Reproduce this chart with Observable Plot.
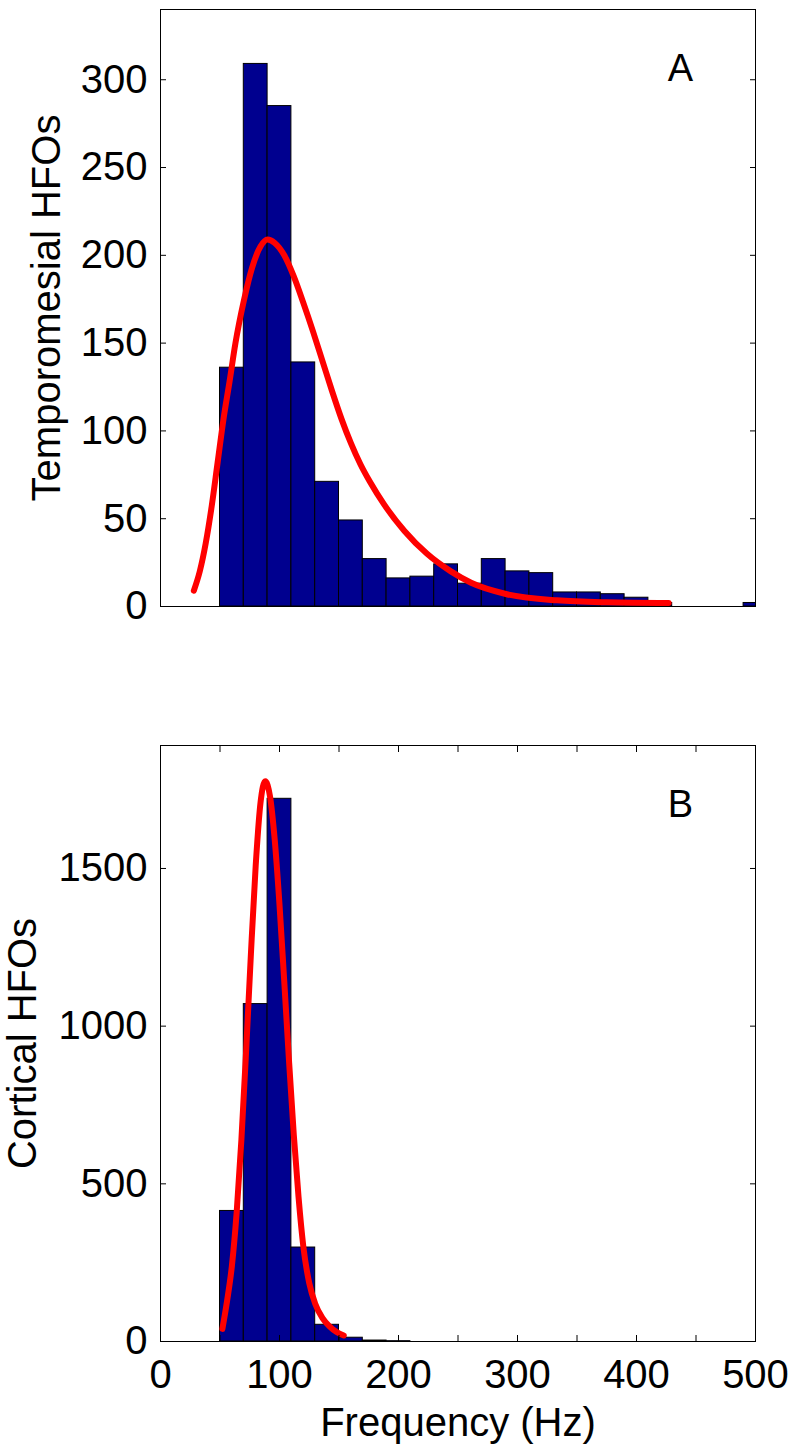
<!DOCTYPE html>
<html>
<head>
<meta charset="utf-8">
<script src="https://cdn.jsdelivr.net/npm/d3@7"></script>
<script src="https://cdn.jsdelivr.net/npm/@observablehq/plot@0.6"></script>
<style>
  html, body { margin: 0; padding: 0; background: #ffffff; }
  #chart { width: 796px; }
  #chart svg { display: block; }
</style>
</head>
<body>
<div id="chart"></div>
<script>
// ---- data ----
const binWidth = 20;
const binStartsA = [50, 70, 90, 110, 130, 150, 170, 190, 210, 230, 250, 270, 290, 310, 330, 350, 370, 390, 410, 430, 450, 470, 490];
const countsA    = [136, 309, 285, 139, 71, 49, 27, 16, 17, 24, 13, 27, 20, 19, 8, 8, 7, 5, 2, 0, 0, 0, 2];

const binStartsB = [50, 70, 90, 110, 130, 150, 170, 190];
const countsB    = [414, 1070, 1721, 298, 53, 12, 3, 1];

const fitFreqA  = [28, 33, 38, 43, 48, 53, 58, 63, 70, 77, 84, 90, 96, 104, 112, 120, 128, 136, 144, 152, 160, 168, 176, 188, 205, 224, 244, 261, 291, 333, 375, 427];
const fitCountA = [9, 20, 36, 57, 82, 107, 128, 150, 174, 193, 205, 209, 207, 200, 188, 173, 157, 140, 123, 107, 93, 81, 71, 58, 43, 30, 20, 13.5, 7, 3.5, 2.4, 2];

const fitFreqB  = [52, 56, 60, 64, 68, 72, 76, 80, 84, 88, 92, 96, 100, 104, 108, 112, 116, 120, 125, 130, 136, 142, 148, 154];
const fitCountB = [40, 130, 240, 409, 641, 925, 1231, 1509, 1707, 1777, 1729, 1590, 1385, 1141, 890, 656, 458, 302, 185, 120, 75, 48, 30, 19];

const xTicks      = [0, 50, 100, 150, 200, 250, 300, 350, 400, 450, 500];
const xTickLabels = [0, 100, 200, 300, 400, 500];
const yTicksA     = [0, 50, 100, 150, 200, 250, 300];
const yTicksB     = [0, 500, 1000, 1500];

const panelLabels = ["A", "B"];
const yLabels = ["Temporomesial HFOs", "Cortical HFOs"];
const xLabel = "Frequency (Hz)";

// ---- tables ----
const binsA = binStartsA.map((s, i) => ({x0: s, x1: s + binWidth, count: countsA[i]}));
const binsB = binStartsB.map((s, i) => ({x0: s, x1: s + binWidth, count: countsB[i]}));
const fitA = fitFreqA.map((f, i) => ({f, c: fitCountA[i]}));
const fitB = fitFreqB.map((f, i) => ({f, c: fitCountB[i]}));

const FONT = "'Liberation Sans', Arial, Helvetica, sans-serif";
const barFill = "#00008f";
const plain = d => String(d);
const style = {fontFamily: FONT, fontSize: "40px", color: "black", background: "white", overflow: "visible"};

const plotA = Plot.plot({
  width: 796, height: 640,
  marginTop: 9, marginBottom: 34, marginLeft: 160, marginRight: 41,
  x: {domain: [0, 500], axis: null},
  y: {domain: [0, 340], axis: null},
  style,
  marks: [
    Plot.rectY(binsA, {x1: "x0", x2: "x1", y: "count", fill: barFill, stroke: "black", strokeWidth: 1, clip: true}),
    Plot.line(fitA, {x: "f", y: "c", stroke: "#ff0000", strokeWidth: 6, curve: "monotone-x", clip: true}),
    Plot.frame({stroke: "black", strokeWidth: 1}),
    Plot.axisY(yTicksA, {anchor: "left", tickSize: -6, tickPadding: 19, label: null, fontSize: 40, tickFormat: plain}),
    Plot.axisY(yTicksA, {anchor: "right", tickSize: -6, fill: "none", label: null}),
    Plot.text([panelLabels[0]], {frameAnchor: "top-right", dx: -75, dy: 59, fontSize: 38, textAnchor: "middle", lineAnchor: "middle"}),
    Plot.text([yLabels[0]], {frameAnchor: "left", rotate: -90, dx: -113, fontSize: 40, textAnchor: "middle", lineAnchor: "middle"})
  ]
});

const plotB = Plot.plot({
  width: 796, height: 811,
  marginTop: 105, marginBottom: 110, marginLeft: 160, marginRight: 41,
  x: {domain: [0, 500], axis: null},
  y: {domain: [0, 1890], axis: null},
  style,
  marks: [
    Plot.rectY(binsB, {x1: "x0", x2: "x1", y: "count", fill: barFill, stroke: "black", strokeWidth: 1, clip: true}),
    Plot.line(fitB, {x: "f", y: "c", stroke: "#ff0000", strokeWidth: 6, curve: "monotone-x", clip: true}),
    Plot.frame({stroke: "black", strokeWidth: 1}),
    Plot.axisY(yTicksB, {anchor: "left", tickSize: -6, tickPadding: 19, label: null, fontSize: 40, tickFormat: plain}),
    Plot.axisY(yTicksB, {anchor: "right", tickSize: -6, fill: "none", label: null}),
    Plot.axisX(xTicks, {anchor: "bottom", tickSize: -6, fill: "none", label: null}),
    Plot.axisX(xTicks, {anchor: "top", tickSize: -6, fill: "none", label: null}),
    Plot.axisX(xTickLabels, {anchor: "bottom", tickSize: 0, tickPadding: 18, label: null, fontSize: 40, tickFormat: plain}),
    Plot.text([panelLabels[1]], {frameAnchor: "top-right", dx: -75, dy: 59, fontSize: 38, textAnchor: "middle", lineAnchor: "middle"}),
    Plot.text([yLabels[1]], {frameAnchor: "left", rotate: -90, dx: -137, fontSize: 40, textAnchor: "middle", lineAnchor: "middle"}),
    Plot.text([xLabel], {frameAnchor: "bottom", dy: 82, fontSize: 40, textAnchor: "middle", lineAnchor: "middle"})
  ]
});

const chart = document.getElementById("chart");
chart.appendChild(plotA);
chart.appendChild(plotB);
</script>
</body>
</html>
